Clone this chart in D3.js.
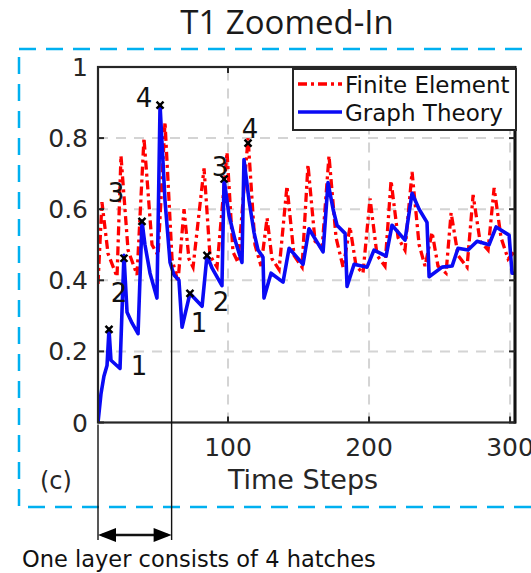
<!DOCTYPE html>
<html><head><meta charset="utf-8">
<script src="https://cdn.jsdelivr.net/npm/d3@7"></script>
<style>body{margin:0;background:#fff}svg{display:block}</style>
</head><body>
<script>
// ---- data ----
const seriesNames = ["Finite Element", "Graph Theory"];
const xTicks = [100, 200, 300];
const yTicks = [0, 0.2, 0.4, 0.6, 0.8, 1];
const yTickLabels = ["0", "0.2", "0.4", "0.6", "0.8", "1"];
const feT = [7.8,10.6,14.9,21.3,24.1,29.1,35.5,40.4,46.1,50.4,55.3,60.3,64.5,68.8,72.3,75.2,83.0,87.2,92.2,99.3,103.5,107.1,114.2,119.1,123.4,127.7,131.2,136.2,141.8,146.8,152.5,156.7,161.7,166.7,171.6,176.6,181.6,186.5,190.8,195.7,200.7,205.7,211.3,215.6,220.6,225.5,230.5,235.5,239.7,244.7,248.9,254.6,258.2,263.1,269.5,273.8,278.7,284.4,288.7,293.6,298.6,303.0];
const feV = [0.39,0.62,0.475,0.41,0.75,0.485,0.415,0.80,0.50,0.47,0.845,0.46,0.395,0.60,0.46,0.437,0.715,0.47,0.437,0.76,0.48,0.45,0.80,0.50,0.44,0.575,0.46,0.43,0.665,0.47,0.437,0.725,0.51,0.49,0.75,0.52,0.437,0.55,0.44,0.42,0.63,0.47,0.44,0.68,0.52,0.485,0.705,0.50,0.44,0.535,0.44,0.42,0.59,0.47,0.437,0.64,0.51,0.485,0.66,0.52,0.46,0.48];
const gtT = [7.8,9.9,12.0,14.2,15.6,17.0,23.4,26.2,28.4,31.9,36.2,39.0,41.1,44.7,49.6,51.8,55.3,58.9,61.7,65.2,67.4,73.0,81.6,85.1,88.7,95.7,97.2,100.7,105.0,109.9,111.3,114.9,118.4,121.3,124.8,125.5,130.5,139.0,143.3,153.2,157.4,167.4,170.9,174.5,177.3,183.0,184.4,189.4,198.6,203.5,212.1,216.3,225.5,230.5,235.5,241.1,242.6,251.8,258.9,263.1,270.2,276.6,285.1,290.1,299.3,301.4,303.5];
const gtV = [0.0,0.08,0.13,0.16,0.262,0.175,0.152,0.47,0.31,0.28,0.25,0.566,0.50,0.42,0.35,0.893,0.625,0.45,0.415,0.40,0.268,0.363,0.327,0.47,0.434,0.385,0.685,0.583,0.513,0.45,0.74,0.625,0.535,0.485,0.465,0.35,0.42,0.395,0.49,0.445,0.545,0.48,0.675,0.60,0.555,0.532,0.383,0.445,0.437,0.485,0.468,0.555,0.513,0.645,0.60,0.563,0.41,0.437,0.44,0.49,0.485,0.51,0.50,0.55,0.527,0.42,0.42];
const markT = [15.6,26.2,39.0,51.8,73.0,85.1,97.2,114.2];
const markV = [0.262,0.462,0.566,0.893,0.363,0.47,0.685,0.786];
const annText = ["4","3","2","1","1","2","3","4"];
const annT = [40.4,20.6,22.7,36.9,79.4,95.0,94.3,115.6];
const annV = [0.913,0.648,0.367,0.159,0.280,0.339,0.721,0.828];
const layerEnd = 60;

// ---- drawing ----
const W = 531, H = 573;
const svg = d3.select("body").append("svg").attr("width", W).attr("height", H);
svg.append("rect").attr("width", W).attr("height", H).attr("fill", "#fff");
const L = 98, R = 515, T = 67, B = 422.5;
const x = d3.scaleLinear().domain([7.8, 303.5]).range([L, R]);
const y = d3.scaleLinear().domain([0, 1]).range([B, T]);
const font = "'DejaVu Sans', sans-serif";

// title
svg.append("text").attr("x", 287).attr("y", 34).attr("text-anchor", "middle")
  .attr("font-family", "'Open Sans', sans-serif").attr("font-size", 33).attr("fill", "#1a1a1a").text("T1 Zoomed-In");

// dashed blue frame
svg.append("rect").attr("x", 19).attr("y", 49).attr("width", 540).attr("height", 458)
  .attr("fill", "none").attr("stroke", "#00b0f0").attr("stroke-width", 2.5).attr("stroke-dasharray", "17,10");

// grid
const grid = svg.append("g").attr("stroke", "#d4d4d4").attr("stroke-width", 2).attr("stroke-dasharray", "10,8");
xTicks.forEach(t => grid.append("line").attr("x1", x(t)).attr("x2", x(t)).attr("y1", B).attr("y2", T));
yTicks.slice(1, -1).forEach(v => grid.append("line").attr("x1", L).attr("x2", R).attr("y1", y(v)).attr("y2", y(v)));

// lines
svg.append("clipPath").attr("id", "clip").append("rect").attr("x", L).attr("y", T - 2).attr("width", R - L).attr("height", B - T + 4);
const fe = feT.map((t, i) => [t, feV[i]]);
const gt = gtT.map((t, i) => [t, gtV[i]]);
const line = d3.line().x(d => x(d[0])).y(d => y(d[1]));
svg.append("path").datum(fe).attr("d", line).attr("clip-path", "url(#clip)")
  .attr("fill", "none").attr("stroke", "#ff0000").attr("stroke-width", 3.3).attr("stroke-dasharray", "9,4,3,4");
svg.append("path").datum(gt).attr("d", line).attr("clip-path", "url(#clip)")
  .attr("fill", "none").attr("stroke", "#0a0af5").attr("stroke-width", 3.6).attr("stroke-linejoin", "round");

// markers
const mk = svg.append("g").attr("stroke", "#000").attr("stroke-width", 2.4);
markT.forEach((t, i) => {
  const cx = x(t), cy = y(markV[i]), s = 3.5;
  mk.append("line").attr("x1", cx - s).attr("y1", cy - s).attr("x2", cx + s).attr("y2", cy + s);
  mk.append("line").attr("x1", cx - s).attr("y1", cy + s).attr("x2", cx + s).attr("y2", cy - s);
});
annText.forEach((s, i) => {
  svg.append("text").attr("x", x(annT[i])).attr("y", y(annV[i]) + 9.5).attr("text-anchor", "middle")
    .attr("font-family", font).attr("font-size", 26).attr("fill", "#111").text(s);
});

// axes box
const ax = svg.append("g");
ax.append("rect").attr("x", L).attr("y", T).attr("width", R - L).attr("height", B - T)
  .attr("fill", "none").attr("stroke", "#262626").attr("stroke-width", 2.2);
ax.append("line").attr("x1", R).attr("x2", R).attr("y1", T - 1).attr("y2", B + 1).attr("stroke", "#111").attr("stroke-width", 3);
xTicks.forEach(t => {
  ax.append("line").attr("x1", x(t)).attr("x2", x(t)).attr("y1", B).attr("y2", B - 6).attr("stroke", "#262626").attr("stroke-width", 2);
  ax.append("line").attr("x1", x(t)).attr("x2", x(t)).attr("y1", T).attr("y2", T + 6).attr("stroke", "#262626").attr("stroke-width", 2);
  ax.append("text").attr("x", x(t)).attr("y", 456).attr("text-anchor", "middle")
    .attr("font-family", font).attr("font-size", 25).attr("fill", "#262626").text(t);
});
yTicks.forEach((v, i) => {
  ax.append("line").attr("x1", L).attr("x2", L + 6).attr("y1", y(v)).attr("y2", y(v)).attr("stroke", "#262626").attr("stroke-width", 2);
  ax.append("line").attr("x1", R).attr("x2", R - 6).attr("y1", y(v)).attr("y2", y(v)).attr("stroke", "#262626").attr("stroke-width", 2);
  ax.append("text").attr("x", 88).attr("y", y(v) + 9).attr("text-anchor", "end")
    .attr("font-family", font).attr("font-size", 25).attr("fill", "#262626").text(yTickLabels[i]);
});
svg.append("text").attr("x", 303).attr("y", 489).attr("text-anchor", "middle")
  .attr("font-family", font).attr("font-size", 27).attr("fill", "#262626").text("Time Steps");
svg.append("text").attr("x", 40).attr("y", 489)
  .attr("font-family", font).attr("font-size", 24).attr("fill", "#262626").text("(c)");

// legend
const lg = svg.append("g");
lg.append("rect").attr("x", 293).attr("y", 69).attr("width", 223).attr("height", 61)
  .attr("fill", "#fff").attr("stroke", "#262626").attr("stroke-width", 2);
lg.append("line").attr("x1", 298).attr("x2", 342).attr("y1", 84).attr("y2", 84)
  .attr("stroke", "#ff0000").attr("stroke-width", 3.3).attr("stroke-dasharray", "9,4,3,4");
lg.append("line").attr("x1", 298).attr("x2", 342).attr("y1", 112).attr("y2", 112)
  .attr("stroke", "#0a0af5").attr("stroke-width", 3.6);
lg.append("text").attr("x", 345).attr("y", 93).attr("font-family", font).attr("font-size", 23).attr("fill", "#111").text(seriesNames[0]);
lg.append("text").attr("x", 345).attr("y", 121).attr("font-family", font).attr("font-size", 23).attr("fill", "#111").text(seriesNames[1]);

// layer annotation
const an = svg.append("g").attr("stroke", "#111").attr("stroke-width", 1.4);
const xa = x(x.domain()[0]), xb = x(layerEnd);
an.append("line").attr("x1", xa).attr("x2", xa).attr("y1", B + 2).attr("y2", 540);
an.append("line").attr("x1", xb).attr("x2", xb).attr("y1", y(0.45)).attr("y2", 540);
an.append("line").attr("x1", xa + 4).attr("x2", xb - 4).attr("y1", 535).attr("y2", 535).attr("stroke-width", 2.5);
svg.append("path").attr("d", `M${xa},535 L${xa + 18},528 L${xa + 18},542 Z`).attr("fill", "#000");
svg.append("path").attr("d", `M${xb},535 L${xb - 18},528 L${xb - 18},542 Z`).attr("fill", "#000");
svg.append("text").attr("x", 22).attr("y", 567).attr("font-family", font).attr("font-size", 22.5)
  .attr("fill", "#111").text("One layer consists of 4 hatches");
</script>
</body></html>
